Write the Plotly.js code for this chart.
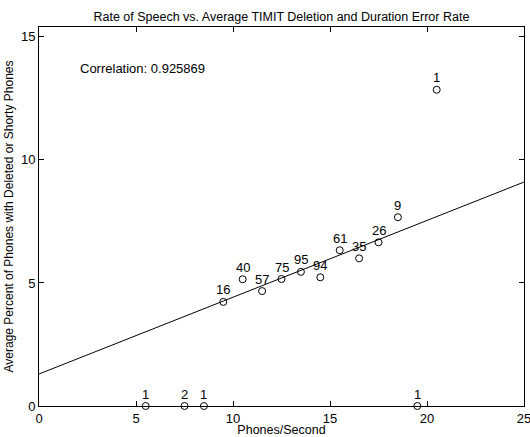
<!DOCTYPE html>
<html>
<head>
<meta charset="utf-8">
<script src="https://cdn.plot.ly/plotly-3.0.1.min.js"></script>
<style>html,body{margin:0;padding:0;background:#fff;}#chart{width:530px;height:437px;}</style>
</head>
<body>
<div id="chart"></div>
<script>
// Rate of speech (phones/second) bin centres
const rate = [5.5, 7.5, 8.5, 9.5, 10.5, 11.5, 12.5, 13.5, 14.5, 15.5, 16.5, 17.5, 18.5, 19.5, 20.5];
// Average percent of phones deleted or shorty
const errPct = [0, 0, 0, 4.23, 5.15, 4.67, 5.16, 5.45, 5.23, 6.33, 6.0, 6.65, 7.67, 0, 12.85];
// Number of utterances in each bin (labels above the points)
const counts = [1, 2, 1, 16, 40, 57, 75, 95, 94, 61, 35, 26, 9, 1, 1];
// Fitted regression line
const fitIntercept = 1.3;
const fitSlope = 0.312;
const fitX = [0, 25];
const correlation = 0.925869;

const FONT = 'Liberation Sans, Arial, Helvetica, sans-serif';

const pts = {
  x: rate, y: errPct, type: 'scatter', mode: 'markers',
  marker: {symbol: 'circle-open', size: 7, color: '#000', line: {width: 1, color: '#000'}},
  cliponaxis: false, hoverinfo: 'x+y'
};
const fit = {
  x: fitX, y: fitX.map(v => fitIntercept + fitSlope * v),
  type: 'scatter', mode: 'lines', line: {color: '#000', width: 1}, hoverinfo: 'skip'
};

const annotations = rate.map((x, i) => ({
  x: x, y: errPct[i], xref: 'x', yref: 'y', text: String(counts[i]),
  showarrow: false, yshift: 12, xanchor: 'center', yanchor: 'middle',
  font: {family: FONT, size: 13, color: '#000'}
}));
annotations.push({
  x: 2, y: 13.73, xref: 'x', yref: 'y', text: 'Correlation: ' + correlation,
  showarrow: false, xanchor: 'left', yanchor: 'middle',
  font: {family: FONT, size: 13, color: '#000'}
});

const axisCommon = {
  showline: true, linecolor: '#000', linewidth: 1, mirror: 'ticks',
  ticks: 'inside', ticklen: 5, tickwidth: 1, tickcolor: '#000',
  showgrid: false, zeroline: false, ticklabeloverflow: 'allow',
  tickfont: {family: FONT, size: 13, color: '#000'}
};

const layout = {
  width: 530, height: 437,
  margin: {l: 39, r: 6, t: 27, b: 31},
  paper_bgcolor: '#fff', plot_bgcolor: '#fff',
  showlegend: false,
  title: {text: 'Rate of Speech vs. Average TIMIT Deletion and Duration Error Rate',
          font: {family: FONT, size: 12.5, color: '#000'},
          x: 0.531, xanchor: 'center', y: 0.963, yanchor: 'middle', yref: 'container'},
  xaxis: Object.assign({}, axisCommon, {
    range: [0, 25], tickvals: [0, 5, 10, 15, 20, 25],
    title: {text: 'Phones/Second', font: {family: FONT, size: 12.5, color: '#000'}, standoff: 2}
  }),
  yaxis: Object.assign({}, axisCommon, {
    range: [0, 15.4], tickvals: [0, 5, 10, 15],
    title: {text: 'Average Percent of Phones with Deleted or Shorty Phones', font: {family: FONT, size: 12, color: '#000'}, standoff: 4}
  }),
  annotations: annotations
};

Plotly.newPlot('chart', [fit, pts], layout, {displayModeBar: false, staticPlot: true});
</script>
</body>
</html>
